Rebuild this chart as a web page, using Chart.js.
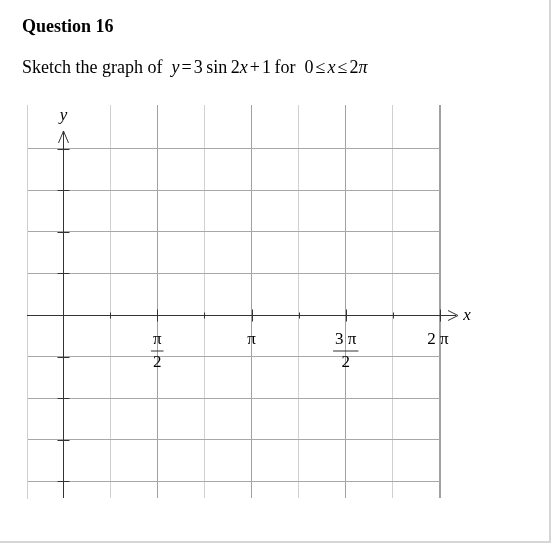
<!DOCTYPE html>
<html>
<head>
<meta charset="utf-8">
<script src="https://cdn.jsdelivr.net/npm/chart.js@4.4.1/dist/chart.umd.min.js"></script>
<style>
  html, body { margin: 0; padding: 0; background: #fff; }
  #page { position: relative; width: 551px; height: 543px; box-sizing: border-box;
    border-right: 2px solid #d6d6d6; border-bottom: 2px solid #d6d6d6; overflow: hidden;
    font-family: "Liberation Serif", "Times New Roman", serif; color: #000; }
  #wrap { position: absolute; left: 0; top: 0; width: 549px; height: 541px; }
  #q { position: absolute; left: 22px; top: 16px; font-size: 18px; font-weight: bold; }
  #t { position: absolute; left: 22px; top: 57px; font-size: 18px; white-space: nowrap; }
  #t .m { margin-left: 9px; }
  #t .o { margin: 0 2px; }
</style>
</head>
<body>
<div id="page">
  <div id="wrap"><canvas id="c"></canvas></div>
  <div id="q">Question 16</div>
  <div id="t">Sketch the graph of<span class="m"><i>y</i><span class="o">=</span>3&thinsp;sin&thinsp;2<i>x</i><span class="o">+</span>1&thinsp;for</span><span class="m">0<span class="o">≤</span><i>x</i><span class="o">≤</span>2<i>π</i></span></div>
</div>
<script>
/* blank sketch grid: y = 3 sin 2x + 1, 0 ≤ x ≤ 2π */
const PI = Math.PI;
const xMin = -0.6, xMax = 2 * PI;
const yMin = -4.4, yMax = 5.05;
const xQuarterSteps = [1, 2, 3, 4, 5, 6, 7, 8];      // vertical grid lines at k·π/4
const yGridValues = [-4, -3, -2, -1, 1, 2, 3, 4];    // horizontal grid lines
const xLabelSteps = [2, 4, 6, 8];
const xLabelTops = ["π", "π", "3 π", "2 π"];
const xLabelBottoms = ["2", "", "2", ""];
const axisNames = ["x", "y"];

const q4 = PI / 4;
const stepOf = (v) => Math.round(v / q4);

const axes = {
  id: "axes",
  afterDraw(chart) {
    const { ctx, scales: { x, y } } = chart;
    const x0 = Math.round(x.getPixelForValue(0)) + 0.5;
    const y0 = Math.round(y.getPixelForValue(0)) + 0.5;
    ctx.save();
    ctx.strokeStyle = "#333"; ctx.fillStyle = "#000"; ctx.lineWidth = 1;

    // y axis + arrow
    const yTip = y.top + 26;
    ctx.beginPath(); ctx.moveTo(x0, yTip); ctx.lineTo(x0, y.bottom); ctx.stroke();
    ctx.beginPath(); ctx.moveTo(x0 - 5, yTip + 12); ctx.lineTo(x0, yTip); ctx.lineTo(x0 + 5, yTip + 12); ctx.stroke();
    yGridValues.forEach((v) => {
      const p = Math.round(y.getPixelForValue(v)) + 0.5;
      ctx.beginPath(); ctx.moveTo(x0 - 6, p); ctx.lineTo(x0 + 6, p); ctx.stroke();
    });

    // x axis + arrow
    const xTip = x.right + 18;
    ctx.beginPath(); ctx.moveTo(x.left, y0); ctx.lineTo(xTip - 2, y0); ctx.stroke();
    ctx.beginPath(); ctx.moveTo(xTip - 10, y0 - 5); ctx.lineTo(xTip, y0); ctx.lineTo(xTip - 10, y0 + 5); ctx.stroke();
    xQuarterSteps.forEach((k) => {
      const p = Math.round(x.getPixelForValue(k * q4)) + 0.5;
      const h = k % 2 === 0 ? 6 : 3;
      ctx.beginPath(); ctx.moveTo(p, y0 - h); ctx.lineTo(p, y0 + h); ctx.stroke();
    });

    // axis names
    ctx.font = 'italic 17px "Liberation Serif"';
    ctx.textAlign = "center"; ctx.textBaseline = "middle";
    ctx.fillText(axisNames[0], xTip + 9, y0);
    ctx.fillText(axisNames[1], x0, yTip - 15);

    // π labels
    ctx.font = '17px "Liberation Serif"';
    xLabelSteps.forEach((k, i) => {
      const cx = x.getPixelForValue(k * q4) - (k === 8 ? 2 : 0);
      ctx.fillText(xLabelTops[i], cx, y0 + 24);
      if (xLabelBottoms[i]) {
        const w = ctx.measureText(xLabelTops[i]).width;
        ctx.beginPath(); ctx.moveTo(cx - w / 2 - 2, y0 + 35.5); ctx.lineTo(cx + w / 2 + 2, y0 + 35.5); ctx.stroke();
        ctx.fillText(xLabelBottoms[i], cx, y0 + 47);
      }
    });
    ctx.restore();
  }
};

new Chart(document.getElementById("c"), {
  type: "scatter",
  data: { datasets: [{ data: [] }] },
  options: {
    responsive: true, maintainAspectRatio: false, animation: false,
    layout: { padding: { left: 27, right: 109, top: 105, bottom: 43 } },
    plugins: { legend: { display: false }, tooltip: { enabled: false } },
    scales: {
      x: {
        type: "linear", min: xMin, max: xMax,
        afterBuildTicks: (s) => { s.ticks = xQuarterSteps.map((k) => ({ value: k * q4 })); },
        ticks: { display: false }, border: { display: false },
        grid: {
          drawTicks: false,
          color: (c) => (stepOf(c.tick.value) % 2 === 0 ? "#a0a0a0" : "#d0d0d0"),
          lineWidth: (c) => (stepOf(c.tick.value) === 8 ? 2 : 1)
        }
      },
      y: {
        type: "linear", min: yMin, max: yMax,
        afterBuildTicks: (s) => { s.ticks = yGridValues.map((v) => ({ value: v })); },
        ticks: { display: false }, border: { display: true, color: "#cfcfcf" },
        grid: { drawTicks: false, color: "#a8a8a8" }
      }
    }
  },
  plugins: [axes]
});
</script>
</body>
</html>
